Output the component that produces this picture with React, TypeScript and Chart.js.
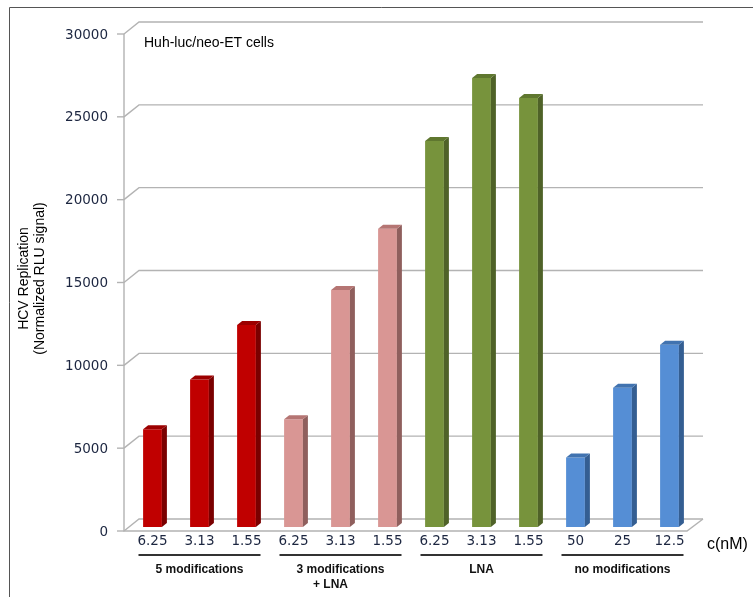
import React, { useEffect, useRef } from "react";
import { Chart, registerables } from "chart.js";

Chart.register(...registerables);

const categories = ["6.25", "3.13", "1.55", "6.25", "3.13", "1.55", "6.25", "3.13", "1.55", "50", "25", "12.5"];
const values = [5900, 8900, 12200, 6500, 14300, 18000, 23300, 27100, 25900, 4200, 8400, 11000];
const groupNames = [["5 modifications"], ["3 modifications", "+ LNA"], ["LNA"], ["no modifications"]];
const groupStarts = [0, 3, 6, 9];
const groupSizes = [3, 3, 3, 3];
const yTicks = [0, 5000, 10000, 15000, 20000, 25000, 30000];
const chartTitle = "Huh-luc/neo-ET cells";
const yTitle = ["HCV Replication", "(Normalized RLU signal)"];
const xUnit = "c(nM)";

const groupFront = ["#C00000", "#D99694", "#77933C", "#558ED5"];
const groupSide = ["#7A0000", "#8F5F5D", "#4F6228", "#345E92"];
const groupTop = ["#9C0000", "#B57573", "#5F772F", "#4173B0"];

const groupOf = (i: number) => {
  for (let g = groupStarts.length - 1; g >= 0; g--) if (i >= groupStarts[g]) return g;
  return 0;
};

const TEXT_NAVY = "#1c2640";
const DX = 5, DY = 4; // bar depth
const BACK_DX = 10, BACK_DY = 8;
const FRONT_DX = -5, FRONT_DY = 4;

const decorPlugin = {
  id: "decor",
  beforeDraw(chart: any) {
    const ctx = chart.ctx;
    ctx.save();
    ctx.fillStyle = "#ffffff";
    ctx.fillRect(0, 0, chart.width, chart.height);
    ctx.strokeStyle = "#555555";
    ctx.lineWidth = 1;
    ctx.beginPath();
    ctx.moveTo(9.5, chart.height);
    ctx.lineTo(9.5, 7.5);
    ctx.lineTo(chart.width, 7.5);
    ctx.stroke();
    ctx.restore();
  },
  beforeDatasetsDraw(chart: any) {
    const ctx = chart.ctx;
    const y = chart.scales.y;
    const { left, right } = chart.chartArea;
    ctx.save();
    ctx.strokeStyle = "#B3B3B3";
    ctx.lineWidth = 1.4;
    yTicks.forEach((v) => {
      const py = y.getPixelForValue(v);
      ctx.beginPath();
      ctx.moveTo(left + FRONT_DX, py + FRONT_DY);
      ctx.lineTo(left + BACK_DX, py - BACK_DY);
      ctx.lineTo(right + BACK_DX, py - BACK_DY);
      ctx.stroke();
      ctx.beginPath();
      ctx.moveTo(left + FRONT_DX - 7, py + FRONT_DY);
      ctx.lineTo(left + FRONT_DX, py + FRONT_DY);
      ctx.stroke();
    });
    const p0 = y.getPixelForValue(0);
    const pTop = y.getPixelForValue(30000);
    ctx.beginPath();
    ctx.moveTo(left + FRONT_DX, pTop + FRONT_DY);
    ctx.lineTo(left + FRONT_DX, p0 + FRONT_DY);
    ctx.lineTo(right - 6, p0 + FRONT_DY);
    ctx.lineTo(right + BACK_DX, p0 - BACK_DY);
    ctx.stroke();
    ctx.restore();
  },
  afterDatasetsDraw(chart: any) {
    const ctx = chart.ctx;
    const meta = chart.getDatasetMeta(0);
    ctx.save();
    meta.data.forEach((bar: any, i: number) => {
      const g = groupOf(i);
      const { x, y, base, width } = bar.getProps(["x", "y", "base", "width"], true);
      const xL = x - width / 2;
      const xR = x + width / 2;
      ctx.fillStyle = groupSide[g];
      ctx.beginPath();
      ctx.moveTo(xR, y);
      ctx.lineTo(xR + DX, y - DY);
      ctx.lineTo(xR + DX, base - DY);
      ctx.lineTo(xR, base);
      ctx.closePath();
      ctx.fill();
      ctx.fillStyle = groupTop[g];
      ctx.beginPath();
      ctx.moveTo(xL, y);
      ctx.lineTo(xL + DX, y - DY);
      ctx.lineTo(xR + DX, y - DY);
      ctx.lineTo(xR, y);
      ctx.closePath();
      ctx.fill();
    });
    ctx.restore();
  },
  afterDraw(chart: any) {
    const ctx = chart.ctx;
    const xs = chart.scales.x;
    const catW = xs.width / categories.length;
    ctx.save();
    ctx.fillStyle = "#000000";
    ctx.font = "14px 'Liberation Sans', Arial, sans-serif";
    ctx.textAlign = "left";
    ctx.textBaseline = "middle";
    ctx.fillText(chartTitle, 144, 43);
    ctx.font = "16px 'Liberation Sans', Arial, sans-serif";
    ctx.fillText(xUnit, 707, 545);
    groupStarts.forEach((s, g) => {
      const x0 = xs.getPixelForValue(s) - catW / 2 + 9.5;
      const x1 = xs.getPixelForValue(s + groupSizes[g] - 1) + catW / 2 - 9.5;
      ctx.strokeStyle = "#333333";
      ctx.lineWidth = 2;
      ctx.beginPath();
      ctx.moveTo(x0, 555);
      ctx.lineTo(x1, 555);
      ctx.stroke();
      ctx.fillStyle = "#111111";
      ctx.font = "bold 12px 'Liberation Sans', Arial, sans-serif";
      ctx.textAlign = "center";
      const cx = (x0 + x1) / 2;
      groupNames[g].forEach((t, k) => {
        ctx.fillText(t, k === 0 ? cx : cx - 10, 570 + k * 15);
      });
    });
    ctx.restore();
  },
};

export default function App() {
  const ref = useRef<HTMLCanvasElement | null>(null);
  useEffect(() => {
    if (!ref.current) return;
    const chart = new Chart(ref.current, {
      type: "bar",
      data: {
        labels: categories,
        datasets: [
          {
            data: values,
            backgroundColor: values.map((_, i) => groupFront[groupOf(i)]),
            barPercentage: 0.4,
            categoryPercentage: 1,
          },
        ],
      },
      options: {
        responsive: false,
        animation: false,
        layout: { padding: { left: 0, top: 30, right: 60, bottom: 0 } },
        plugins: { legend: { display: false }, tooltip: { enabled: false } },
        scales: {
          x: {
            grid: { display: false, drawTicks: false },
            border: { display: false },
            ticks: {
              color: TEXT_NAVY,
              font: { family: "'DejaVu Sans', sans-serif", size: 13.5 },
              padding: 6,
              maxRotation: 0,
              autoSkip: false,
            },
            afterFit: (s: any) => {
              s.height = 70;
            },
          },
          y: {
            min: 0,
            max: 30000,
            grid: { display: false, drawTicks: false },
            border: { display: false },
            afterBuildTicks: (s: any) => {
              s.ticks = yTicks.map((v) => ({ value: v }));
            },
            ticks: {
              color: TEXT_NAVY,
              font: { family: "'DejaVu Sans', sans-serif", size: 13.5 },
              padding: 21,
              labelOffset: 5,
              callback: (v: any) => String(v),
            },
            title: {
              display: true,
              text: yTitle,
              color: "#000000",
              font: { family: "'Liberation Sans', Arial, sans-serif", size: 14, lineHeight: 1.15 },
              padding: { top: 16, bottom: 0 },
            },
            afterFit: (s: any) => {
              s.width = 129;
            },
          },
        },
      },
      plugins: [decorPlugin],
    });
    return () => chart.destroy();
  }, []);
  return (
    <div style={{ position: "fixed", left: 0, top: 0, width: 753, height: 597, background: "#fff" }}>
      <canvas ref={ref} width={753} height={597} style={{ display: "block" }} />
    </div>
  );
}
